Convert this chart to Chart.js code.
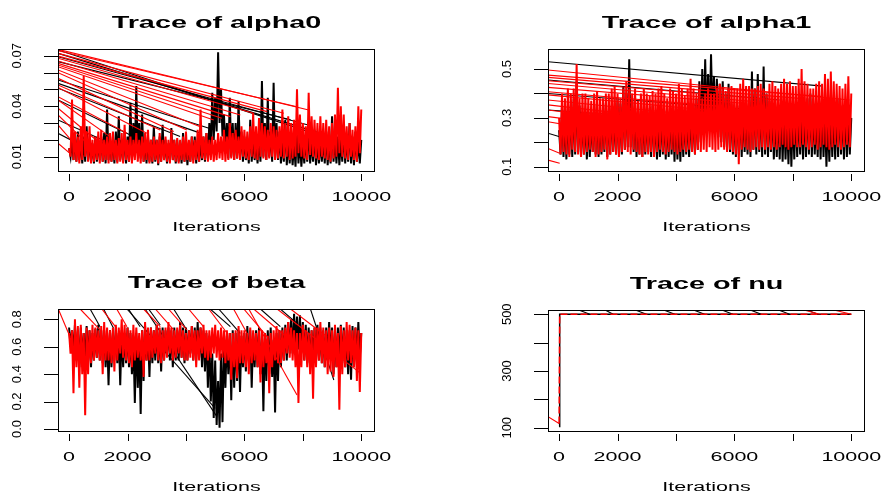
<!DOCTYPE html>
<html>
<head>
<meta charset="utf-8">
<title>Trace plots</title>
<script src="https://cdn.jsdelivr.net/npm/chart.js@4/dist/chart.umd.min.js"></script>
<style>
  html, body { margin: 0; padding: 0; background: #fff; }
  #wrap { position: relative; width: 885px; height: 493px; }
  #wrap canvas { position: absolute; left: 0; top: 0; }
</style>
</head>
<body>
<div id="wrap">
  <canvas id="c-alpha0" width="885" height="493"></canvas>
  <canvas id="c-alpha1" width="885" height="493"></canvas>
  <canvas id="c-beta" width="885" height="493"></canvas>
  <canvas id="c-nu" width="885" height="493"></canvas>
</div>
<script>
// ─── Data: upper / lower edge of each chain's trace, one pair per 100 iterations ───
const ITER_STEP = 100;
const iterGrid = Array.from({ length: 101 }, (_, i) => i * ITER_STEP);

const alpha0BlackHi = [
  0.015, 0.02, 0.022, 0.025, 0.02, 0.022, 0.028, 0.02, 0.018, 0.022,
  0.02, 0.022, 0.024, 0.038, 0.02, 0.022, 0.025, 0.034, 0.02, 0.025,
  0.022, 0.042, 0.03, 0.052, 0.03, 0.035, 0.02, 0.022, 0.02, 0.028,
  0.02, 0.022, 0.029, 0.02, 0.018, 0.027, 0.02, 0.02, 0.018, 0.024,
  0.02, 0.018, 0.022, 0.022, 0.02, 0.019, 0.022, 0.024, 0.03, 0.048,
  0.045, 0.072, 0.05, 0.035, 0.03, 0.045, 0.03, 0.03, 0.043, 0.025,
  0.022, 0.02, 0.032, 0.022, 0.02, 0.022, 0.055, 0.03, 0.045, 0.025,
  0.054, 0.03, 0.025, 0.02, 0.032, 0.02, 0.02, 0.018, 0.028, 0.02,
  0.018, 0.022, 0.03, 0.02, 0.026, 0.02, 0.02, 0.022, 0.025, 0.02,
  0.034, 0.022, 0.022, 0.02, 0.028, 0.022, 0.03, 0.022, 0.025, 0.02,
  0.02
];
const alpha0BlackLo = [
  0.01, 0.008, 0.007, 0.008, 0.006, 0.007, 0.008, 0.007, 0.006, 0.007,
  0.008, 0.007, 0.006, 0.008, 0.007, 0.006, 0.007, 0.008, 0.007, 0.006,
  0.007, 0.008, 0.01, 0.012, 0.009, 0.007, 0.006, 0.007, 0.006, 0.007,
  0.005, 0.007, 0.008, 0.006, 0.007, 0.008, 0.006, 0.007, 0.006, 0.007,
  0.005, 0.007, 0.008, 0.006, 0.007, 0.008, 0.007, 0.009, 0.012, 0.02,
  0.025, 0.03, 0.022, 0.015, 0.009, 0.01, 0.008, 0.009, 0.01, 0.007,
  0.008, 0.006, 0.007, 0.008, 0.006, 0.007, 0.01, 0.008, 0.01, 0.007,
  0.009, 0.008, 0.006, 0.007, 0.005, 0.006, 0.005, 0.004, 0.006, 0.004,
  0.006, 0.007, 0.006, 0.007, 0.005, 0.006, 0.007, 0.006, 0.005, 0.006,
  0.007, 0.006, 0.005, 0.007, 0.006, 0.007, 0.006, 0.005, 0.007, 0.006,
  0.008
];
const alpha0RedHi = [
  0.015, 0.044, 0.025, 0.022, 0.028, 0.058, 0.025, 0.028, 0.02, 0.022,
  0.025, 0.026, 0.02, 0.022, 0.024, 0.025, 0.02, 0.021, 0.024, 0.029,
  0.02, 0.022, 0.02, 0.024, 0.02, 0.022, 0.024, 0.026, 0.02, 0.022,
  0.02, 0.024, 0.02, 0.022, 0.02, 0.025, 0.02, 0.021, 0.02, 0.022,
  0.025, 0.02, 0.022, 0.02, 0.026, 0.038, 0.022, 0.024, 0.02, 0.022,
  0.02, 0.024, 0.022, 0.026, 0.022, 0.03, 0.024, 0.026, 0.022, 0.028,
  0.026, 0.025, 0.028, 0.036, 0.028, 0.033, 0.03, 0.028, 0.026, 0.03,
  0.028, 0.026, 0.028, 0.038, 0.03, 0.034, 0.03, 0.032, 0.05, 0.035,
  0.03, 0.028, 0.048, 0.034, 0.032, 0.03, 0.034, 0.03, 0.032, 0.028,
  0.03, 0.035, 0.051, 0.04, 0.035, 0.028, 0.03, 0.026, 0.028, 0.04,
  0.038
];
const alpha0RedLo = [
  0.01, 0.008, 0.007, 0.006, 0.008, 0.01, 0.007, 0.006, 0.007, 0.008,
  0.006, 0.007, 0.008, 0.006, 0.007, 0.008, 0.006, 0.007, 0.006, 0.008,
  0.007, 0.006, 0.008, 0.007, 0.006, 0.007, 0.008, 0.006, 0.007, 0.008,
  0.006, 0.007, 0.008, 0.007, 0.006, 0.008, 0.007, 0.006, 0.008, 0.007,
  0.008, 0.007, 0.006, 0.008, 0.007, 0.009, 0.008, 0.007, 0.008, 0.007,
  0.008, 0.009, 0.008, 0.007, 0.008, 0.009, 0.008, 0.009, 0.008, 0.01,
  0.009, 0.008, 0.01, 0.009, 0.008, 0.01, 0.009, 0.008, 0.009, 0.01,
  0.008, 0.009, 0.01, 0.009, 0.01, 0.008, 0.009, 0.01, 0.012, 0.01,
  0.009, 0.008, 0.011, 0.01, 0.009, 0.008, 0.01, 0.009, 0.008, 0.007,
  0.009, 0.01, 0.012, 0.01, 0.009, 0.008, 0.01, 0.008, 0.007, 0.012,
  0.015
];

const alpha1BlackHi = [
  0.25, 0.35, 0.3, 0.32, 0.35, 0.38, 0.45, 0.35, 0.32, 0.3,
  0.32, 0.3, 0.35, 0.33, 0.3, 0.32, 0.36, 0.33, 0.35, 0.32,
  0.38, 0.36, 0.43, 0.4, 0.54, 0.38, 0.34, 0.33, 0.36, 0.32,
  0.32, 0.34, 0.35, 0.32, 0.3, 0.33, 0.33, 0.31, 0.34, 0.32,
  0.34, 0.3, 0.32, 0.33, 0.33, 0.35, 0.35, 0.38, 0.45, 0.5,
  0.54, 0.48, 0.56, 0.47, 0.46, 0.44, 0.45, 0.4, 0.44, 0.36,
  0.33, 0.35, 0.36, 0.34, 0.34, 0.38, 0.49, 0.42, 0.48, 0.38,
  0.51, 0.4, 0.37, 0.35, 0.33, 0.34, 0.35, 0.32, 0.3, 0.33,
  0.32, 0.34, 0.34, 0.33, 0.36, 0.38, 0.4, 0.36, 0.33, 0.35,
  0.35, 0.32, 0.3, 0.34, 0.34, 0.36, 0.38, 0.35, 0.36, 0.34,
  0.3
];
const alpha1BlackLo = [
  0.15, 0.14, 0.13, 0.15, 0.14, 0.15, 0.16, 0.14, 0.15, 0.13,
  0.14, 0.16, 0.15, 0.14, 0.15, 0.16, 0.14, 0.15, 0.16, 0.15,
  0.14, 0.15, 0.17, 0.18, 0.18, 0.16, 0.14, 0.15, 0.14, 0.15,
  0.16, 0.14, 0.15, 0.13, 0.14, 0.15, 0.13, 0.14, 0.15, 0.12,
  0.13, 0.12, 0.14, 0.15, 0.14, 0.16, 0.15, 0.17, 0.2, 0.25,
  0.28, 0.26, 0.3, 0.25, 0.22, 0.2, 0.18, 0.17, 0.16, 0.15,
  0.14, 0.15, 0.14, 0.16, 0.15, 0.14, 0.17, 0.15, 0.16, 0.14,
  0.15, 0.14, 0.16, 0.13, 0.14, 0.13, 0.12, 0.13, 0.11, 0.1,
  0.13, 0.14, 0.15, 0.13, 0.14, 0.15, 0.14, 0.15, 0.14, 0.13,
  0.14, 0.1, 0.12, 0.14, 0.13, 0.14, 0.15, 0.13, 0.14, 0.15,
  0.2
];
const alpha1RedHi = [
  0.3, 0.4, 0.38, 0.42, 0.4, 0.42, 0.52, 0.38, 0.4, 0.4,
  0.38, 0.37, 0.4, 0.41, 0.38, 0.38, 0.4, 0.4, 0.42, 0.43,
  0.4, 0.38, 0.42, 0.45, 0.42, 0.4, 0.42, 0.37, 0.4, 0.42,
  0.4, 0.39, 0.41, 0.4, 0.42, 0.43, 0.4, 0.38, 0.42, 0.41,
  0.4, 0.44, 0.42, 0.39, 0.42, 0.46, 0.42, 0.4, 0.42, 0.38,
  0.4, 0.42, 0.4, 0.4, 0.42, 0.44, 0.42, 0.41, 0.42, 0.43,
  0.42, 0.42, 0.44, 0.46, 0.43, 0.43, 0.42, 0.42, 0.43, 0.44,
  0.42, 0.4, 0.44, 0.45, 0.43, 0.42, 0.44, 0.46, 0.44, 0.45,
  0.43, 0.43, 0.46, 0.5, 0.45, 0.44, 0.42, 0.42, 0.44, 0.45,
  0.44, 0.48, 0.46, 0.49, 0.45, 0.44, 0.43, 0.42, 0.44, 0.47,
  0.4
];
const alpha1RedLo = [
  0.15, 0.16, 0.15, 0.14, 0.17, 0.16, 0.15, 0.14, 0.15, 0.16,
  0.17, 0.16, 0.14, 0.15, 0.16, 0.17, 0.13, 0.15, 0.16, 0.15,
  0.14, 0.16, 0.17, 0.16, 0.15, 0.17, 0.16, 0.15, 0.14, 0.16,
  0.15, 0.16, 0.14, 0.16, 0.17, 0.16, 0.15, 0.16, 0.17, 0.16,
  0.15, 0.16, 0.17, 0.16, 0.17, 0.16, 0.15, 0.17, 0.16, 0.17,
  0.16, 0.18, 0.17, 0.16, 0.17, 0.18, 0.17, 0.16, 0.17, 0.16,
  0.15, 0.11, 0.17, 0.18, 0.17, 0.16, 0.17, 0.18, 0.17, 0.18,
  0.17, 0.18, 0.17, 0.18, 0.17, 0.18, 0.19, 0.18, 0.17, 0.18,
  0.19, 0.18, 0.18, 0.19, 0.18, 0.17, 0.18, 0.19, 0.17, 0.18,
  0.19, 0.18, 0.17, 0.18, 0.19, 0.18, 0.17, 0.18, 0.19, 0.18,
  0.22
];

const betaBlackHi = [
  0.74, 0.72, 0.76, 0.72, 0.74, 0.7, 0.75, 0.72, 0.7, 0.73,
  0.76, 0.72, 0.72, 0.7, 0.72, 0.7, 0.74, 0.7, 0.72, 0.7,
  0.74, 0.7, 0.65, 0.7, 0.62, 0.72, 0.75, 0.72, 0.74, 0.72,
  0.76, 0.72, 0.74, 0.72, 0.74, 0.72, 0.74, 0.72, 0.78, 0.74,
  0.74, 0.72, 0.75, 0.74, 0.78, 0.74, 0.72, 0.7, 0.68, 0.55,
  0.5, 0.35, 0.55, 0.62, 0.68, 0.7, 0.72, 0.7, 0.72, 0.68,
  0.7, 0.75, 0.72, 0.7, 0.72, 0.74, 0.65, 0.7, 0.72, 0.74,
  0.65, 0.7, 0.72, 0.74, 0.76, 0.78, 0.8, 0.84, 0.82, 0.83,
  0.78, 0.76, 0.74, 0.72, 0.74, 0.76, 0.74, 0.72, 0.74, 0.78,
  0.74, 0.72, 0.74, 0.76, 0.74, 0.72, 0.72, 0.75, 0.74, 0.78,
  0.7
];
const betaBlackLo = [
  0.6, 0.55, 0.5, 0.45, 0.5, 0.48, 0.5, 0.45, 0.5, 0.52,
  0.5, 0.48, 0.45, 0.32, 0.45, 0.5, 0.48, 0.32, 0.45, 0.48,
  0.45, 0.4, 0.19, 0.3, 0.11, 0.35, 0.5, 0.38, 0.48, 0.5,
  0.48, 0.42, 0.5, 0.55, 0.5, 0.45, 0.5, 0.5, 0.52, 0.48,
  0.5, 0.55, 0.5, 0.5, 0.52, 0.45, 0.42, 0.3, 0.2, 0.08,
  0.03, 0.01, 0.05, 0.3, 0.4, 0.21, 0.3, 0.35, 0.27, 0.45,
  0.42, 0.5, 0.3, 0.45, 0.45, 0.4, 0.13, 0.35, 0.4, 0.38,
  0.12, 0.35, 0.45, 0.5, 0.5, 0.55, 0.55, 0.6, 0.58, 0.55,
  0.5, 0.48, 0.45, 0.5, 0.52, 0.5, 0.48, 0.45, 0.5, 0.52,
  0.4, 0.45, 0.5, 0.48, 0.45, 0.4, 0.36, 0.45, 0.5, 0.52,
  0.55
];
const betaRedHi = [
  0.7, 0.72, 0.8, 0.75, 0.76, 0.7, 0.74, 0.72, 0.76, 0.74,
  0.72, 0.75, 0.78, 0.74, 0.72, 0.74, 0.76, 0.74, 0.8, 0.76,
  0.74, 0.72, 0.76, 0.74, 0.7, 0.72, 0.78, 0.74, 0.74, 0.72,
  0.76, 0.74, 0.72, 0.74, 0.78, 0.74, 0.72, 0.74, 0.76, 0.72,
  0.7, 0.72, 0.75, 0.72, 0.72, 0.74, 0.76, 0.72, 0.72, 0.74,
  0.76, 0.72, 0.74, 0.72, 0.72, 0.7, 0.7, 0.72, 0.75, 0.72,
  0.72, 0.7, 0.74, 0.72, 0.7, 0.72, 0.72, 0.7, 0.68, 0.7,
  0.72, 0.75, 0.72, 0.72, 0.74, 0.78, 0.74, 0.72, 0.7, 0.7,
  0.76, 0.72, 0.7, 0.72, 0.74, 0.74, 0.78, 0.74, 0.72, 0.74,
  0.72, 0.76, 0.7, 0.75, 0.72, 0.78, 0.76, 0.72, 0.74, 0.72,
  0.7
];
const betaRedLo = [
  0.55, 0.26, 0.45, 0.3, 0.4, 0.1, 0.4, 0.48, 0.5, 0.52,
  0.5, 0.4, 0.5, 0.5, 0.48, 0.42, 0.5, 0.55, 0.52, 0.5,
  0.48, 0.45, 0.5, 0.52, 0.5, 0.38, 0.5, 0.5, 0.52, 0.55,
  0.5, 0.48, 0.5, 0.52, 0.55, 0.5, 0.52, 0.55, 0.52, 0.5,
  0.5, 0.52, 0.5, 0.45, 0.5, 0.55, 0.52, 0.5, 0.52, 0.55,
  0.52, 0.5, 0.52, 0.48, 0.5, 0.36, 0.45, 0.37, 0.48, 0.48,
  0.45, 0.4, 0.48, 0.5, 0.45, 0.34, 0.45, 0.48, 0.26, 0.45,
  0.5, 0.48, 0.48, 0.5, 0.55, 0.52, 0.5, 0.45, 0.19, 0.45,
  0.5, 0.45, 0.4, 0.22, 0.45, 0.5, 0.48, 0.45, 0.4, 0.42,
  0.38, 0.45, 0.14, 0.4, 0.45, 0.5, 0.48, 0.45, 0.35, 0.27,
  0.35
];

const nuIter  = [0, 20, 10000];
const nuBlack = [104, 500, 500];
const nuRed   = [115, 500, 500];

// Jump segments that cut across each panel: [iterFrom, valueFrom, iterTo, valueTo]
const alpha0BlackJumps = [
  [-380, 0.0734, 9060, 0.020], [-380, 0.0714, 8600, 0.024], [-380, 0.0694, 8150, 0.029],
  [-380, 0.0665, 7580, 0.032], [-380, 0.0556, 4950, 0.026], [-380, 0.0536, 4490, 0.024],
  [-380, 0.0507, 3800, 0.022], [-380, 0.0437, 2430, 0.020], [-380, 0.0318, 1400, 0.018],
  [-380, 0.0239, 490, 0.016]
];
const alpha0RedJumps = [
  [-380, 0.0738, 8200, 0.0378], [-380, 0.0730, 7800, 0.0397], [-380, 0.0714, 7350, 0.0358],
  [-380, 0.0698, 6780, 0.0368], [-380, 0.0685, 6320, 0.0358], [-380, 0.0669, 5860, 0.0348],
  [-380, 0.0655, 5520, 0.0338], [-380, 0.0645, 5230, 0.0328], [-380, 0.0635, 4950, 0.0318],
  [-380, 0.0615, 4490, 0.0278], [-380, 0.0599, 4030, 0.0259], [-380, 0.0566, 3580, 0.0249],
  [-380, 0.0526, 3120, 0.0259], [-380, 0.0512, 2660, 0.0239], [-380, 0.0457, 1980, 0.0239],
  [-380, 0.0437, 1400, 0.0219], [-380, 0.0388, 1060, 0.0180], [-380, 0.0348, 610, 0.0180],
  [-380, 0.0289, 260, 0.0160], [-380, 0.0180, 30, 0.0120]
];
const alpha1BlackJumps = [
  [-380, 0.530, 9030, 0.430], [-380, 0.455, 7550, 0.373], [-380, 0.400, 6750, 0.332],
  [-380, 0.332, 4470, 0.291], [-380, 0.237, 20, 0.223]
];
const alpha1RedJumps = [
  [-380, 0.496, 9940, 0.373], [-380, 0.475, 9030, 0.387], [-380, 0.466, 8230, 0.380],
  [-380, 0.452, 7440, 0.373], [-380, 0.441, 6750, 0.366], [-380, 0.425, 6290, 0.360],
  [-380, 0.407, 5610, 0.346], [-380, 0.394, 5040, 0.332], [-380, 0.373, 4020, 0.319],
  [-380, 0.353, 3100, 0.305], [-380, 0.332, 2190, 0.291], [-380, 0.305, 1390, 0.278],
  [-380, 0.284, 600, 0.264], [-380, 0.175, 20, 0.155], [-380, 0.127, 20, 0.114]
];
const betaBlackJumps = [
  [720, 0.875, 1060, 0.746], [1180, 0.875, 1520, 0.734], [2030, 0.875, 2430, 0.746],
  [2720, 0.875, 3120, 0.758], [3580, 0.875, 4030, 0.722], [4830, 0.875, 5520, 0.746],
  [5120, 0.875, 5860, 0.698], [6550, 0.875, 7230, 0.746], [7230, 0.875, 7800, 0.770],
  [1980, 0.875, 5000, 0.151], [2600, 0.875, 5060, 0.09], [8260, 0.875, 9060, 0.357]
];
const betaRedJumps = [
  [-370, 0.875, 30, 0.673], [380, 0.875, 1060, 0.722], [1120, 0.875, 1630, 0.734],
  [1630, 0.875, 1980, 0.746], [2550, 0.875, 3120, 0.746], [2950, 0.875, 3580, 0.722],
  [3400, 0.875, 4030, 0.722], [4090, 0.875, 4600, 0.746], [4780, 0.875, 5410, 0.698],
  [5630, 0.875, 6090, 0.698], [5980, 0.875, 6780, 0.673], [6150, 0.875, 7800, 0.248],
  [6320, 0.875, 7690, 0.625], [7120, 0.875, 9980, 0.406], [7580, 0.875, 8830, 0.673]
];
const nuBlackJumps = [
  [650, 516, 1050, 500], [1560, 516, 1850, 500], [2590, 516, 2990, 500],
  [3560, 516, 3960, 500], [4580, 516, 4980, 500], [5550, 516, 5950, 500],
  [6520, 516, 6920, 500], [7490, 516, 7890, 500], [8460, 516, 8860, 500]
];
const nuRedJumps = [
  [-380, 139, 0, 115], [8350, 516, 8920, 500], [9370, 516, 10000, 500]
];

// Tick marks / labels
const xTicks = [0, 2000, 4000, 6000, 8000, 10000];
const xTickLabels = ['0', '2000', '', '6000', '', '10000'];
const alpha0YTicks = [0.01, 0.02, 0.03, 0.04, 0.05, 0.06, 0.07];
const alpha0YLabels = ['0.01', '', '', '0.04', '', '', '0.07'];
const alpha1YTicks = [0.1, 0.2, 0.3, 0.4, 0.5];
const alpha1YLabels = ['0.1', '', '0.3', '', '0.5'];
const betaYTicks = [0.0, 0.2, 0.4, 0.6, 0.8];
const betaYLabels = ['0.0', '0.2', '0.4', '0.6', '0.8'];
const nuYTicks = [100, 200, 300, 400, 500];
const nuYLabels = ['100', '', '300', '', '500'];

// ─── Styling ───
const BLACK = '#000000';
const RED = '#ff0000';
const FONT = '"Liberation Sans", Arial, Helvetica, sans-serif';
const W = 885, H = 493;

// weave upper and lower edges into one zig-zag trace
function weave(hi, lo) {
  const pts = [];
  iterGrid.forEach((x, i) => {
    pts.push({ x, y: hi[i] });
    if (i < iterGrid.length - 1) pts.push({ x: x + ITER_STEP / 2, y: lo[i] });
  });
  return pts;
}
function pairUp(xs, ys) {
  return xs.map((x, i) => ({ x, y: ys[i] }));
}

const panels = [
  { id: 'c-alpha0', title: 'Trace of alpha0', box: [58, 49, 375, 172], yMin: 0.0009, yMax: 0.074,
    yTicks: alpha0YTicks, yLabels: alpha0YLabels,
    black: weave(alpha0BlackHi, alpha0BlackLo), red: weave(alpha0RedHi, alpha0RedLo),
    blackJumps: alpha0BlackJumps, redJumps: alpha0RedJumps },
  { id: 'c-alpha1', title: 'Trace of alpha1', box: [548, 49, 865, 172], yMin: 0.0783, yMax: 0.582,
    yTicks: alpha1YTicks, yLabels: alpha1YLabels,
    black: weave(alpha1BlackHi, alpha1BlackLo), red: weave(alpha1RedHi, alpha1RedLo),
    blackJumps: alpha1BlackJumps, redJumps: alpha1RedJumps },
  { id: 'c-beta', title: 'Trace of beta', box: [58, 309, 375, 432], yMin: -0.022, yMax: 0.875,
    yTicks: betaYTicks, yLabels: betaYLabels,
    black: weave(betaBlackHi, betaBlackLo), red: weave(betaRedHi, betaRedLo),
    blackJumps: betaBlackJumps, redJumps: betaRedJumps },
  { id: 'c-nu', title: 'Trace of nu', box: [548, 310, 865, 432], yMin: 85, yMax: 515,
    yTicks: nuYTicks, yLabels: nuYLabels,
    black: pairUp(nuIter, nuBlack), red: pairUp(nuIter, nuRed),
    blackJumps: nuBlackJumps, redJumps: nuRedJumps,
    lineWidth: 1.5, redDash: [7, 3] }
];

function traceSet(points, color, width, dash) {
  return {
    data: points,
    borderColor: color, borderWidth: width, borderDash: dash || [],
    pointRadius: 0, tension: 0, fill: false, clip: 0
  };
}

function jumpSet(j, color) {
  return {
    data: [{ x: j[0], y: j[1] }, { x: j[2], y: j[3] }],
    borderColor: color, borderWidth: 1.1,
    pointRadius: 0, tension: 0, fill: false, clip: 0
  };
}

// Horizontal text in the reference is drawn wide; stretch it sideways
function wideText(ctx, text, x, y, font, sx) {
  ctx.save();
  ctx.font = font;
  ctx.fillStyle = BLACK;
  ctx.textAlign = 'center';
  ctx.textBaseline = 'alphabetic';
  ctx.translate(x, y);
  ctx.scale(sx, 1);
  ctx.fillText(text, 0, 0);
  ctx.restore();
}

function axesPlugin(p) {
  return {
    id: 'rAxes',
    afterDraw(chart) {
      const ctx = chart.ctx;
      const a = chart.chartArea;
      const xs = chart.scales.x, ys = chart.scales.y;
      ctx.save();
      ctx.strokeStyle = BLACK;
      ctx.lineWidth = 1;
      ctx.strokeRect(a.left + 0.5, a.top + 0.5, a.right - a.left - 1, a.bottom - a.top - 1);

      // x ticks
      ctx.beginPath();
      xTicks.forEach(v => {
        const px = Math.round(xs.getPixelForValue(v)) + 0.5;
        ctx.moveTo(px, a.bottom + 2);
        ctx.lineTo(px, a.bottom + 9);
      });
      // y ticks
      p.yTicks.forEach(v => {
        const py = Math.round(ys.getPixelForValue(v)) + 0.5;
        ctx.moveTo(a.left - 14, py);
        ctx.lineTo(a.left, py);
      });
      ctx.stroke();

      // x tick labels
      xTicks.forEach((v, i) => {
        if (!xTickLabels[i]) return;
        wideText(ctx, xTickLabels[i], xs.getPixelForValue(v), a.bottom + 28.5, '12.5px ' + FONT, 1.72);
      });

      // y tick labels, rotated like R's default
      ctx.font = '13px ' + FONT;
      ctx.fillStyle = BLACK;
      ctx.textAlign = 'center';
      ctx.textBaseline = 'alphabetic';
      p.yTicks.forEach((v, i) => {
        if (!p.yLabels[i]) return;
        ctx.save();
        ctx.translate(a.left - 42, ys.getPixelForValue(v));
        ctx.rotate(-Math.PI / 2);
        ctx.fillText(p.yLabels[i], 0, 4.6);
        ctx.restore();
      });

      // axis title and panel title
      const cx = (a.left + a.right) / 2;
      wideText(ctx, 'Iterations', cx, a.bottom + 58.5, '12.5px ' + FONT, 1.72);
      wideText(ctx, p.title, cx, a.top - 21.5, 'bold 16px ' + FONT, 1.8);
      ctx.restore();
    }
  };
}

panels.forEach(p => {
  const lw = p.lineWidth || 2;
  // first dataset is painted last, so the red chain sits on top of the black one
  const datasets = [traceSet(p.red, RED, lw, p.redDash)];
  p.redJumps.forEach(j => datasets.push(jumpSet(j, RED)));
  datasets.push(traceSet(p.black, BLACK, lw));
  p.blackJumps.forEach(j => datasets.push(jumpSet(j, BLACK)));

  const [l, t, r, b] = p.box;
  new Chart(document.getElementById(p.id), {
    type: 'line',
    data: { datasets },
    options: {
      responsive: false,
      devicePixelRatio: 1,
      animation: false,
      events: [],
      layout: { padding: { left: l, top: t, right: W - r, bottom: H - b } },
      scales: {
        x: { type: 'linear', display: false, min: -380, max: 10470 },
        y: { type: 'linear', display: false, min: p.yMin, max: p.yMax }
      },
      plugins: { legend: { display: false }, tooltip: { enabled: false }, title: { display: false } }
    },
    plugins: [axesPlugin(p)]
  });
});
</script>
</body>
</html>
